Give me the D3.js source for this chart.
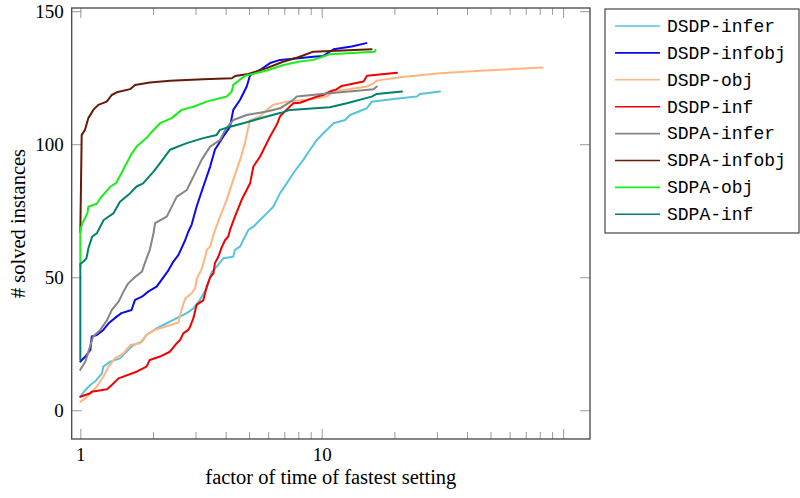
<!DOCTYPE html>
<html>
<head>
<meta charset="utf-8">
<script src="https://cdn.jsdelivr.net/npm/d3@7"></script>
<style>
  body { margin: 0; background: #fff; }
  svg { display: block; }
</style>
</head>
<body>
<div id="chart"></div>
<script>
// series names, in legend order
const seriesNames = [
  "DSDP-infer",
  "DSDP-infobj",
  "DSDP-obj",
  "DSDP-inf",
  "SDPA-infer",
  "SDPA-infobj",
  "SDPA-obj",
  "SDPA-inf",
];

// line colors, same order
const colors = [
  "#55c4dc",
  "#0a0aee",
  "#ffb582",
  "#f00000",
  "#858585",
  "#661a08",
  "#18ee18",
  "#00806f",
];

// [factor of fastest time, # solved instances]
const dsdpInfer = [
  [1, 5.1], [1.05, 7.6], [1.1, 9.5], [1.15, 10.8], [1.23, 13.9], [1.245, 16.4],
  [1.33, 18.3], [1.46, 19.5], [1.58, 22.7], [1.66, 24.5], [1.8, 25.8],
  [1.88, 28.3], [2.07, 30.8], [2.28, 32.7], [2.51, 34.6], [2.76, 36.5],
  [2.94, 38.3], [3.13, 41.5], [3.34, 46], [3.5, 52], [3.67, 54], [3.91, 57.1],
  [4.3, 57.7], [4.37, 60.3], [4.59, 61.5], [4.73, 64], [4.97, 67.8], [5.21, 69],
  [5.55, 71.5], [5.92, 74], [6.3, 76.5], [6.72, 81.6], [7.16, 85.3],
  [7.63, 89.1], [8.39, 94.1], [8.94, 97.9], [9.54, 101.6], [10.15, 104.1],
  [11.2, 107.9], [12.5, 109.1], [13.1, 111], [15.4, 113.5], [16.1, 116],
  [21.1, 117.3], [24.8, 117.9], [25.5, 118.9], [30.9, 119.8],
];
const dsdpInfobj = [
  [1, 18.3], [1.05, 20.2], [1.1, 22.7], [1.115, 27.7], [1.17, 28.3],
  [1.245, 30.2], [1.31, 32.7], [1.415, 35.2], [1.48, 36.5], [1.63, 37.7],
  [1.685, 41.5], [1.8, 42.7], [1.91, 44.6], [2.07, 46.5], [2.17, 49],
  [2.32, 52.7], [2.43, 55.9], [2.55, 58.4], [2.72, 64], [2.8, 67.1],
  [2.89, 69.7], [3.03, 76.5], [3.23, 84], [3.45, 91.6], [3.61, 97.9],
  [3.91, 102.9], [4.17, 106.6], [4.3, 112.9], [4.59, 116.7], [4.89, 121.7],
  [5.05, 126], [5.55, 127.9], [6.11, 130.5], [6.72, 131.7], [8.0, 132.3],
  [9.23, 132.9], [10.15, 133.2], [11.2, 135.7], [13.3, 136.7], [15.3, 138],
];
const dsdpObj = [
  [1, 3.2], [1.05, 4.5], [1.1, 6.4], [1.17, 8.9], [1.245, 12.6], [1.31, 16.4],
  [1.39, 19.5], [1.51, 21.4], [1.61, 24.5], [1.77, 25.2], [1.88, 28.3],
  [2.04, 30.2], [2.24, 31.4], [2.55, 33], [2.63, 38], [2.72, 42], [2.89, 44],
  [2.99, 45.9], [3.04, 49.5], [3.18, 53], [3.29, 57.5], [3.34, 60.3],
  [3.45, 61.5], [3.56, 66], [3.79, 72.8], [4.04, 79.1], [4.3, 86.6],
  [4.59, 94.1], [4.81, 100.4], [4.97, 106.6], [5.05, 109.1], [5.55, 110.4],
  [5.92, 112.9], [6.3, 114.8], [7.16, 116], [8.67, 116.7], [10.5, 117.9],
  [11.2, 119.8], [15.4, 121.7], [16.4, 122.9], [16.9, 123.9], [21.1, 125.2],
  [30.9, 126.7], [45.3, 127.6], [82.3, 128.8],
];
const dsdpInf = [
  [1, 5.1], [1.1, 6.4], [1.115, 7], [1.29, 7.9], [1.35, 9.5], [1.44, 12],
  [1.71, 14.5], [1.88, 16.4], [1.94, 18.9], [2.14, 20.2], [2.35, 22],
  [2.51, 25.2], [2.59, 26.4], [2.67, 28.9], [2.8, 30.2], [2.85, 31.4],
  [2.94, 34.6], [3.03, 39.6], [3.23, 41.3], [3.34, 46.5], [3.45, 50],
  [3.56, 51.5], [3.61, 55.3], [3.73, 57.7], [3.85, 61.2], [3.98, 64],
  [4.1, 65.3], [4.17, 67.8], [4.37, 72.8], [4.66, 79.1], [5.05, 85.3],
  [5.21, 91.6], [5.55, 95.3], [5.92, 100.4], [6.11, 102.9], [6.51, 107.3],
  [6.72, 110.5], [7.16, 113], [7.63, 115.4], [8.13, 115.6], [9.54, 117.9],
  [10.15, 118.5], [10.8, 119.8], [11.5, 120.6], [12.1, 121.9], [14.9, 123.6],
  [15.4, 125.7], [20.5, 126.9],
];
const sdpaInfer = [
  [1, 15.2], [1.05, 18.3], [1.08, 22], [1.13, 27.7], [1.21, 30.2],
  [1.29, 33.9], [1.35, 37.7], [1.44, 40.8], [1.51, 44.6], [1.58, 47.7],
  [1.69, 50.2], [1.8, 52.1], [1.85, 55.3], [1.94, 60.3], [2.01, 66.5],
  [2.04, 70.3], [2.28, 72.8], [2.51, 80.3], [2.76, 82.8], [2.94, 87.8],
  [3.18, 94.1], [3.45, 99.1], [3.79, 101.6], [3.98, 105.4], [4.3, 109.1],
  [4.89, 111], [5.92, 112.3], [6.72, 113.5], [7.63, 116.7], [7.88, 117.9],
  [10.8, 119.2], [16.4, 120.7], [16.9, 121.7],
];
const sdpaInfobj = [
  [1, 67], [1.013, 103.5], [1.046, 105.4], [1.079, 109.8], [1.132, 112.9],
  [1.187, 114.8], [1.286, 116], [1.349, 118.5], [1.415, 119.5], [1.607, 120.7],
  [1.685, 122.3], [1.944, 123.2], [2.353, 123.9], [3.224, 124.4],
  [4.239, 124.8], [4.374, 125.6], [4.966, 126.4], [5.918, 128.6],
  [6.916, 131], [8.0, 132.7], [9.23, 134.8], [16.1, 135.7],
];
const sdpaObj = [
  [1, 54], [1, 67.8], [1.02, 70.3], [1.07, 74], [1.08, 76.5], [1.17, 77.6],
  [1.21, 79.7], [1.33, 84], [1.41, 85.5], [1.53, 91.6], [1.62, 96],
  [1.71, 99.1], [1.88, 102.3], [1.98, 104.7], [2.14, 107.9], [2.39, 109.8],
  [2.63, 112.9], [2.94, 114.1], [3.34, 116], [4.04, 117.9], [4.24, 119.8],
  [4.3, 122.3], [4.81, 125.7], [5.92, 127.7], [6.94, 129.8], [8.0, 131],
  [9.23, 131.7], [10.8, 133.8], [16.6, 134.8], [16.7, 135.5],
];
const sdpaInf = [
  [1, 19], [1, 55], [1.03, 55.9], [1.06, 57.1], [1.08, 60.9], [1.12, 65.3],
  [1.17, 66.5], [1.25, 71.5], [1.37, 74], [1.46, 78.4], [1.61, 81.6],
  [1.71, 84.1], [1.82, 85.3], [2.01, 89.7], [2.14, 92.9], [2.35, 97.9],
  [2.76, 100.4], [3.23, 102.3], [3.67, 103.5], [3.79, 105.4], [4.17, 106.6],
  [4.73, 107.9], [5.92, 110.4], [6.72, 111.7], [7.39, 112.9], [10.8, 113.9],
  [12.7, 115.4], [16.1, 117.9], [16.9, 118.9], [21.5, 119.8],
];

const seriesData = [
  dsdpInfer, dsdpInfobj, dsdpObj, dsdpInf,
  sdpaInfer, sdpaInfobj, sdpaObj, sdpaInf,
];

// ticks
const xMajorTicks = [1, 10, 100];
const xTickLabels = ["1", "10", ""];
const xMinorTicks = [2, 3, 4, 5, 6, 7, 8, 9, 20, 30, 40, 50, 60, 70, 80, 90];
const yTicks = [0, 50, 100, 150];

// canvas size
const width = 800;
const height = 498;

// plot box
const plotLeft = 71.7;
const plotRight = 590;
const plotTop = 8;
const plotBottom = 439;

const serif = "'Liberation Serif', 'DejaVu Serif', serif";
const mono = "'Liberation Mono', 'DejaVu Sans Mono', monospace";
const frameColor = "#444";
const tickColor = "#9a9a9a";

const svg = d3
  .select("#chart")
  .append("svg")
  .attr("width", width)
  .attr("height", height);

// scales
const xScale = d3.scaleLog().domain([0.921, 129.2]).range([plotLeft, plotRight]);
const yScale = d3.scaleLinear().domain([-10.8, 151.2]).range([plotBottom, plotTop]);

// axis helper: ticks point inward, no domain line
function drawAxis(axis, transform, labelled) {
  const g = svg
    .append("g")
    .attr("transform", transform)
    .call(axis);
  g.select(".domain").remove();
  g.selectAll(".tick line")
    .attr("stroke", tickColor)
    .attr("stroke-width", 1);
  g.selectAll(".tick text")
    .attr("fill", "#000")
    .style("font-family", serif)
    .style("font-size", "19px");
  if (!labelled) g.selectAll(".tick text").remove();
  return g;
}

const xLabelFmt = (d) => xTickLabels[xMajorTicks.indexOf(d)];

// bottom + top x axes
drawAxis(
  d3.axisBottom(xScale).tickValues(xMajorTicks).tickSize(-10).tickPadding(9).tickFormat(xLabelFmt),
  "translate(0," + plotBottom + ")",
  true
);
drawAxis(
  d3.axisBottom(xScale).tickValues(xMinorTicks).tickSize(-7).tickFormat(""),
  "translate(0," + plotBottom + ")",
  false
);
drawAxis(
  d3.axisTop(xScale).tickValues(xMajorTicks).tickSize(-10).tickFormat(""),
  "translate(0," + plotTop + ")",
  false
);
drawAxis(
  d3.axisTop(xScale).tickValues(xMinorTicks).tickSize(-7).tickFormat(""),
  "translate(0," + plotTop + ")",
  false
);

// left + right y axes
drawAxis(
  d3.axisLeft(yScale).tickValues(yTicks).tickSize(-10).tickPadding(8),
  "translate(" + plotLeft + ",0)",
  true
);
drawAxis(
  d3.axisRight(yScale).tickValues(yTicks).tickSize(-10).tickFormat(""),
  "translate(" + plotRight + ",0)",
  false
);

// lines
const line = d3
  .line()
  .x((d) => xScale(d[0]))
  .y((d) => yScale(d[1]));

svg
  .append("g")
  .selectAll("path")
  .data(seriesData)
  .enter()
  .append("path")
  .attr("d", line)
  .attr("fill", "none")
  .attr("stroke", (d, i) => colors[i])
  .attr("stroke-width", 2)
  .attr("stroke-linejoin", "round")
  .attr("stroke-linecap", "round");

// frame
svg
  .append("rect")
  .attr("x", plotLeft)
  .attr("y", plotTop)
  .attr("width", plotRight - plotLeft)
  .attr("height", plotBottom - plotTop)
  .attr("fill", "none")
  .attr("stroke", frameColor)
  .attr("stroke-width", 1.3);

// axis titles
svg
  .append("text")
  .attr("x", (plotLeft + plotRight) / 2)
  .attr("y", 484)
  .attr("text-anchor", "middle")
  .style("font-family", serif)
  .style("font-size", "20.5px")
  .text("factor of time of fastest setting");

svg
  .append("text")
  .attr("transform", "translate(25," + (plotTop + plotBottom) / 2 + ") rotate(-90)")
  .attr("text-anchor", "middle")
  .style("font-family", serif)
  .style("font-size", "20.5px")
  .text("# solved instances");

// legend
const legend = svg.append("g");
const rowH = 26.9;

legend
  .append("rect")
  .attr("x", 605)
  .attr("y", 9)
  .attr("width", 194)
  .attr("height", 224)
  .attr("fill", "#fff")
  .attr("stroke", frameColor)
  .attr("stroke-width", 1.2);

const rows = legend
  .selectAll(".row")
  .data(seriesNames)
  .enter()
  .append("g")
  .attr("class", "row")
  .attr("transform", (d, i) => "translate(0," + (26 + i * rowH) + ")");

rows
  .append("line")
  .attr("x1", 615)
  .attr("x2", 660)
  .attr("stroke", (d, i) => colors[i])
  .attr("stroke-width", 1.6);

rows
  .append("text")
  .attr("x", 667)
  .attr("y", 5.8)
  .style("font-family", mono)
  .style("font-size", "18px")
  .text((d) => d);
</script>
</body>
</html>
